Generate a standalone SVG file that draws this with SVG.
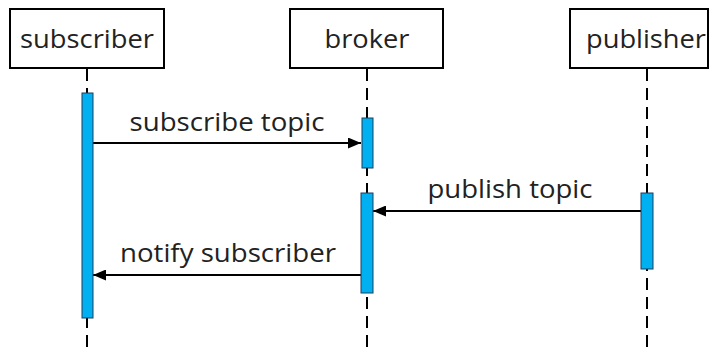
<svg xmlns="http://www.w3.org/2000/svg" width="714" height="350" viewBox="0 0 714 350">
<defs>
<style>
.box{fill:#fff;stroke:#000;stroke-width:2}
.life{stroke:#000;stroke-width:2;stroke-dasharray:12 7;fill:none}
.act{fill:#00b0f0;stroke:#1f3f5f;stroke-width:1}
.msg{stroke:#000;stroke-width:2;fill:none;marker-end:url(#ah)}
text{font-family:"Open Sans","Liberation Sans",sans-serif;font-size:26px;fill:#222;text-anchor:middle}
</style>
<marker id="ah" viewBox="0 0 13 11" refX="13" refY="5.5" markerWidth="13" markerHeight="11" markerUnits="userSpaceOnUse" orient="auto">
<path d="M0,0 L13,5.5 L0,11 z" fill="#000"/>
</marker>
</defs>
<g id="connectors">
<line class="life" x1="87" y1="69" x2="87" y2="350"/>
<line class="life" x1="367" y1="69" x2="367" y2="350"/>
<line class="life" x1="647" y1="69" x2="647" y2="350"/>
<line class="msg" x1="93" y1="143" x2="361" y2="143"/>
<line class="msg" x1="641" y1="211" x2="373" y2="211"/>
<line class="msg" x1="361" y1="275" x2="93" y2="275"/>
<text x="227" y="131" textLength="195" lengthAdjust="spacingAndGlyphs">subscribe topic</text>
<text x="510" y="198" textLength="165" lengthAdjust="spacingAndGlyphs">publish topic</text>
<text x="228" y="262" textLength="216" lengthAdjust="spacingAndGlyphs">notify subscriber</text>
</g>
<g id="subscriber">
<rect class="box" x="10" y="9" width="154" height="59"/>
<text x="87" y="48" textLength="134" lengthAdjust="spacingAndGlyphs">subscriber</text>
<rect class="act" x="82" y="93" width="11" height="225"/>
</g>
<g id="broker">
<rect class="box" x="290" y="9" width="153" height="59"/>
<text x="367" y="48" textLength="85" lengthAdjust="spacingAndGlyphs">broker</text>
<rect class="act" x="362" y="118" width="11" height="50"/>
<rect class="act" x="361" y="193" width="12" height="100"/>
</g>
<g id="publisher">
<rect class="box" x="570" y="9" width="138" height="59"/>
<text x="646" y="48" textLength="120" lengthAdjust="spacingAndGlyphs">publisher</text>
<rect class="act" x="641" y="193" width="12" height="76"/>
</g>
</svg>
